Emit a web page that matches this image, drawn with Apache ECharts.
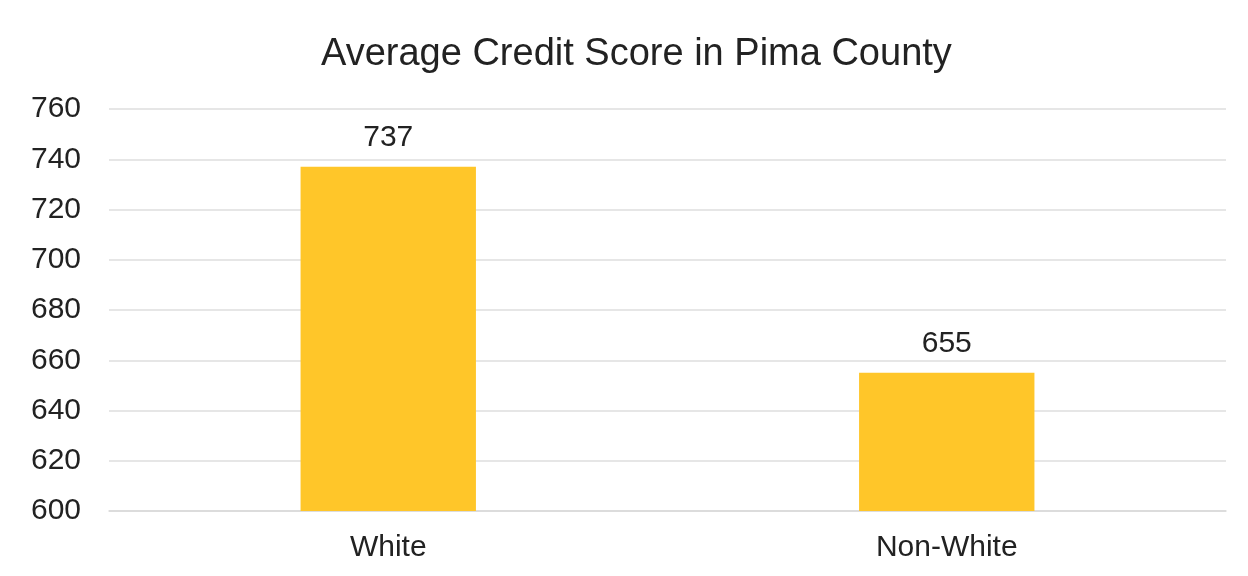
<!DOCTYPE html>
<html>
<head>
<meta charset="utf-8">
<script src="https://cdn.jsdelivr.net/npm/echarts@6/dist/echarts.min.js"></script>
<style>html,body{margin:0;padding:0;background:#fff;}#c{width:1248px;height:576px;}</style>
</head>
<body>
<div id="c"></div>
<script>
const categories = ["White", "Non-White"];
const scores = [737, 655];
const titleText = "Average Credit Score in Pima County";

const FONT = "'Liberation Sans', Arial, sans-serif";
const chart = echarts.init(document.getElementById('c'), null, {renderer: 'canvas'});
chart.setOption({
  backgroundColor: '#ffffff',
  animation: false,
  textStyle: {fontFamily: FONT},
  title: {
    text: titleText,
    left: 316,
    top: 31,
    textStyle: {fontSize: 38, fontWeight: 'normal', color: '#222', fontFamily: FONT}
  },
  grid: {left: 109, right: 22, top: 109, bottom: 65, containLabel: false},
  xAxis: {
    type: 'category',
    data: categories,
    axisLine: {lineStyle: {color: '#d9d9d9', width: 1.5}},
    axisTick: {show: false},
    axisLabel: {fontSize: 30, color: '#222', margin: 22, fontFamily: FONT}
  },
  yAxis: {
    type: 'value',
    min: 600, max: 760, interval: 20,
    axisLine: {show: false},
    axisTick: {show: false},
    splitLine: {lineStyle: {color: '#dedede', width: 1.5}},
    axisLabel: {fontSize: 30, color: '#222', margin: 28, fontFamily: FONT}
  },
  series: [{
    type: 'bar',
    data: scores,
    barWidth: '31.4%',
    itemStyle: {color: '#FFC629'},
    label: {show: true, position: 'top', fontSize: 30, color: '#222', distance: 14, fontFamily: FONT}
  }]
});
</script>
</body>
</html>
